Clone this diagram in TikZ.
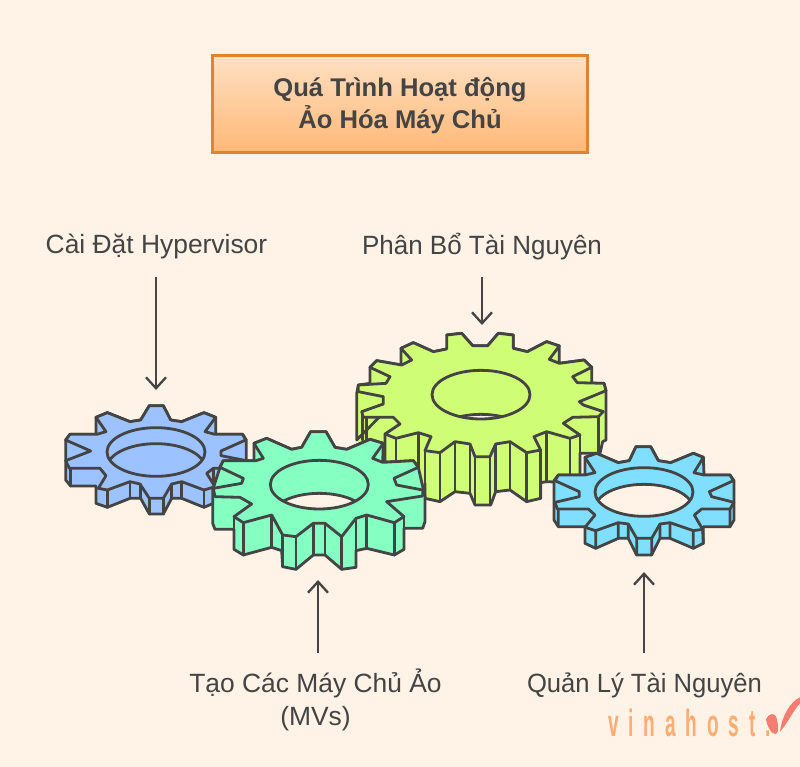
\documentclass[tikz,border=0pt]{standalone}
\usepackage{fontspec}
\setmainfont{Liberation Sans}
\usetikzlibrary{arrows.meta}
\definecolor{bgc}{HTML}{FFF2E6}
\definecolor{ink}{HTML}{444444}
\definecolor{boxedge}{HTML}{E08433}
\definecolor{boxtop}{HTML}{FFE0C2}
\definecolor{boxbot}{HTML}{FFB877}
\definecolor{gblue}{HTML}{9CC2FF}
\definecolor{ggreen}{HTML}{85FFC2}
\definecolor{glime}{HTML}{CFFD75}
\definecolor{gcyan}{HTML}{80DFFF}
\definecolor{logoo}{HTML}{FFAC70}
\definecolor{logor}{HTML}{F47C70}
\tikzset{
  gl/.style={draw=ink,line width=2.8pt,line join=round,line cap=round},
  zoomA/.style={x=0.33333pt,y=-0.33333pt,shift={(50pt,-390pt)}},
  zoomB/.style={x=0.33333pt,y=-0.33333pt,shift={(350pt,-320pt)}},
  zoomC/.style={x=0.33333pt,y=-0.33333pt,shift={(520pt,-660pt)}},
  lab/.style={text=ink,font=\fontsize{26.4}{33}\selectfont,align=center,inner sep=0pt},
  arr/.style={draw=ink,line width=2.3pt,-{Straight Barb[length=11pt,width=20pt,line width=2.3pt]}},
}
\begin{document}
\begin{tikzpicture}[x=1pt,y=-1pt]
\useasboundingbox (0,0) rectangle (800,767);
\fill[bgc] (0,0) rectangle (800,767);
% title
\shade[top color=boxtop,bottom color=boxbot] (212,55) rectangle (588,153);
\node[draw=boxedge,line width=2.6pt,minimum width=375pt,minimum height=97pt,inner sep=0pt] (titlebox) at (400,104) {};
\node[inner sep=0pt,text=ink,font=\bfseries\fontsize{25.6}{32}\selectfont,align=center] (title) at (400,105.5) {Quá Trình Hoạt động\\Ảo Hóa Máy Chủ};
% lime gear
\begin{scope}[zoomB]
\fill[glime] (290,45)--(335,40)--(368,77)--(413,77)--(445,40)--(490,45)--(490,85)--(532,95)--(590,65)--(628,78)--(628,130)--(702,120)--(725,142)--(725,190)--(762,190)--(768,212)--(768,360)--(758,365)--(750,400)--(690,400)--(690,470)--(660,488)--(590,485)--(572,488)--(572,535)--(530,545)--(480,510)--(437,515)--(422,555)--(375,555)--(360,520)--(315,515)--(270,545)--(225,535)--(225,490)--(105,470)--(20,360)--(20,220)--(25,195)--(60,190)--(60,142)--(80,122)--(153,135)--(153,85)--(190,68)--(250,95)--(290,87)--cycle;
\draw[gl] (290,45)--(335,40)--(368,77)--(413,77)--(445,40)--(490,45)--(490,85)--(532,95)--(590,65)--(628,78)--(628,130)--(702,120)--(725,142)--(725,190)--(762,190)--(768,212)--(768,360)--(758,365)--(750,400)--(690,400)--(690,470)--(660,488)--(590,485)--(572,488)--(572,535)--(530,545)--(480,510)--(437,515)--(422,555)--(375,555)--(360,520)--(315,515)--(270,545)--(225,535)--(225,490) (105,470)--(105,342) (20,360)--(20,220)--(25,195)--(60,190)--(60,142)--(80,122)--(153,135)--(153,85)--(190,68)--(250,95)--(290,87)--cycle;
\draw[gl] (225,392)--(225,490) (270,398)--(270,545) (315,365)--(315,515) (360,372)--(360,520) (375,410)--(375,555) (420,410)--(420,555) (437,372)--(437,515) (480,365)--(480,510) (530,398)--(530,545) (572,390)--(572,535) (590,335)--(590,485) (660,355)--(660,488) (690,345)--(690,470) (138,355)--(138,430) (205,338)--(205,470) (745,290)--(745,400) (38,280)--(38,360) (50,295)--(50,360);
\filldraw[gl,fill=glime] (290,45)--(335,40)--(368,77)--(413,77)--(445,40)--(490,45)--(490,85)--(532,95)--(590,65)--(628,78)--(598,118)--(628,130)--(702,120)--(725,142)--(668,170)--(682,188)--(762,190)--(768,212)--(688,245)--(700,255)--(760,275)--(745,290)--(668,292)--(640,310)--(690,345)--(660,355)--(590,335)--(552,350)--(572,390)--(530,398)--(480,365)--(437,372)--(420,410)--(375,410)--(360,372)--(315,365)--(270,398)--(225,392)--(243,350)--(205,338)--(138,355)--(105,342)--(150,312)--(130,292)--(40,292)--(35,275)--(100,252)--(100,230)--(25,215)--(25,195)--(108,190)--(120,170)--(60,142)--(80,122)--(155,135)--(185,120)--(153,85)--(190,68)--(250,95)--(290,87)--cycle;
\begin{scope}
\clip (393,224) ellipse [x radius=147,y radius=73];
\filldraw[gl,fill=bgc] (393,356) ellipse [x radius=147,y radius=73];
\end{scope}
\draw[gl] (393,224) ellipse [x radius=147,y radius=73];
\end{scope}
% blue gear
\begin{scope}[zoomA]
\filldraw[gl,fill=gblue] (298,47)--(340,47)--(362,90)--(395,95)--(462,68)--(497,82)--(497,133)--(578,133)--(589,150)--(589,270)--(575,288)--(495,288)--(495,338)--(462,352)--(395,325)--(365,325)--(340,372)--(298,372)--(272,325)--(240,325)--(172,352)--(138,340)--(138,288)--(62,288)--(47,270)--(47,150)--(60,133)--(138,133)--(138,82)--(172,68)--(240,95)--(272,90)--cycle;
\draw[gl] (62,235)--(62,288) (172,300)--(172,352) (240,275)--(240,325) (272,282)--(272,325) (298,325)--(298,372) (340,325)--(340,372) (365,282)--(365,325) (395,275)--(395,325) (462,300)--(462,352) (495,290)--(495,338) (490,235)--(490,288);
\filldraw[gl,fill=gblue] (298,47)--(340,47)--(362,90)--(395,95)--(462,68)--(497,82)--(465,125)--(495,133)--(578,133)--(587,150)--(513,183)--(513,197)--(589,212)--(578,235)--(490,235)--(470,250)--(495,290)--(462,300)--(395,275)--(365,282)--(340,325)--(298,325)--(270,282)--(240,275)--(172,300)--(145,295)--(168,257)--(150,235)--(58,235)--(47,212)--(122,183)--(47,150)--(60,133)--(140,133)--(168,125)--(138,82)--(172,68)--(240,95)--(272,90)--cycle;
\begin{scope}
\clip (318,186) ellipse [x radius=147,y radius=73];
\filldraw[gl,fill=gblue] (318,234) ellipse [x radius=147,y radius=73];
\end{scope}
\draw[gl] (318,186) ellipse [x radius=147,y radius=73];
% green gear
\filldraw[gl,fill=ggreen] (782,125)--(828,125)--(855,172)--(890,178)--(960,148)--(1000,160)--(998,217)--(1090,212)--(1105,232)--(1125,320)--(1125,395)--(1118,415)--(1062,415)--(1062,478)--(1033,495)--(950,475)--(918,482)--(918,532)--(875,538)--(825,495)--(790,495)--(738,538)--(698,530)--(695,482)--(665,472)--(580,495)--(552,478)--(552,418)--(495,418)--(488,400)--(488,300)--(510,232)--(520,212)--(612,212)--(612,160)--(650,145)--(725,178)--(755,172)--cycle;
\draw[gl] (580,398)--(580,495) (552,380)--(552,478) (665,375)--(665,472) (698,435)--(698,530) (738,440)--(738,538) (790,400)--(790,495) (825,400)--(825,495) (875,440)--(875,538) (918,385)--(918,532) (950,375)--(950,475) (1033,398)--(1033,495) (1062,380)--(1062,478);
\filldraw[gl,fill=ggreen] (782,125)--(828,125)--(855,172)--(890,178)--(960,148)--(1000,160)--(968,205)--(998,217)--(1090,212)--(1105,232)--(1032,265)--(1040,285)--(1118,300)--(1118,318)--(1010,335)--(1062,380)--(1033,398)--(950,375)--(918,385)--(875,440)--(825,400)--(790,400)--(738,440)--(698,435)--(665,375)--(580,398)--(552,380)--(605,342)--(570,322)--(495,320)--(490,295)--(575,280)--(580,265)--(510,232)--(520,212)--(618,212)--(640,205)--(612,160)--(650,145)--(725,178)--(755,172)--cycle;
\begin{scope}
\clip (808,284) ellipse [x radius=147,y radius=73];
\filldraw[gl,fill=bgc] (808,383) ellipse [x radius=147,y radius=73];
\end{scope}
\draw[gl] (808,284) ellipse [x radius=147,y radius=73];
\end{scope}
% cyan gear
\begin{scope}[zoomB]
\filldraw[gl,fill=gcyan] (858,380)--(902,380)--(925,422)--(962,428)--(1030,400)--(1060,412)--(1062,465)--(1140,465)--(1152,482)--(1152,600)--(1140,620)--(1060,620)--(1060,670)--(1030,685)--(960,655)--(930,655)--(905,705)--(860,705)--(835,655)--(805,655)--(737,685)--(705,670)--(705,620)--(625,620)--(612,600)--(612,482)--(625,465)--(705,465)--(705,412)--(740,400)--(805,428)--(838,422)--cycle;
\draw[gl] (625,567)--(625,620) (737,632)--(737,685) (805,608)--(805,655) (835,612)--(835,655) (860,655)--(860,705) (905,655)--(905,705) (930,612)--(930,655) (960,608)--(960,655) (1030,632)--(1030,685) (1058,628)--(1060,670) (1140,567)--(1140,620);
\filldraw[gl,fill=gcyan] (858,380)--(902,380)--(925,422)--(962,428)--(1030,400)--(1060,412)--(1032,458)--(1062,465)--(1140,465)--(1150,482)--(1078,515)--(1085,530)--(1152,547)--(1140,567)--(1055,567)--(1033,585)--(1058,628)--(1030,632)--(960,608)--(930,612)--(905,655)--(860,655)--(835,612)--(805,608)--(737,632)--(705,622)--(735,585)--(715,567)--(622,567)--(615,547)--(688,530)--(688,515)--(615,482)--(625,465)--(705,465)--(735,458)--(705,412)--(740,400)--(805,428)--(838,422)--cycle;
\begin{scope}
\clip (882,516) ellipse [x radius=147,y radius=73];
\filldraw[gl,fill=bgc] (882,566) ellipse [x radius=147,y radius=73];
\end{scope}
\draw[gl] (882,516) ellipse [x radius=147,y radius=73];
\end{scope}
% labels
\node[lab] (l1) at (156.5,247) {Cài Đặt Hypervisor};
\node[lab,xscale=0.985] (l2) at (482,247) {Phân Bổ Tài Nguyên};
\node[lab,anchor=north] (l3) at (315.5,669) {Tạo Các Máy Chủ Ảo\\(MVs)};
\node[lab,xscale=0.97] (l4) at (644.5,685) {Quản Lý Tài Nguyên};
% arrows
\coordinate (a1s) at (156,277); \coordinate (a1e) at (156,390);
\coordinate (a2s) at (482,277); \coordinate (a2e) at (482,325);
\coordinate (a3s) at (318,653); \coordinate (a3e) at (318,580);
\coordinate (a4s) at (644,653); \coordinate (a4e) at (644,572);
\draw[arr] (a1s)--(a1e);
\draw[arr] (a2s)--(a2e);
\draw[arr] (a3s)--(a3e);
\draw[arr] (a4s)--(a4e);
% logo
\node[inner sep=0pt,anchor=base west,text=logoo,xscale=0.5] (logo) at (608,736) {\fontspec{Liberation Sans Bold}[LetterSpace=52]\fontsize{38}{38}\selectfont vinahost.};
\begin{scope}[zoomC]
\fill[logor] (738,178) .. controls (745,160) and (765,155) .. (770,175) .. controls (775,195) and (778,215) .. (768,222) .. controls (755,225) and (742,200) .. (738,178)--cycle;
\fill[logor] (780,215) .. controls (785,170) and (810,125) .. (840,112)--(840,130) .. controls (820,150) and (800,195) .. (780,215)--cycle;
\end{scope}
\end{tikzpicture}
\end{document}
